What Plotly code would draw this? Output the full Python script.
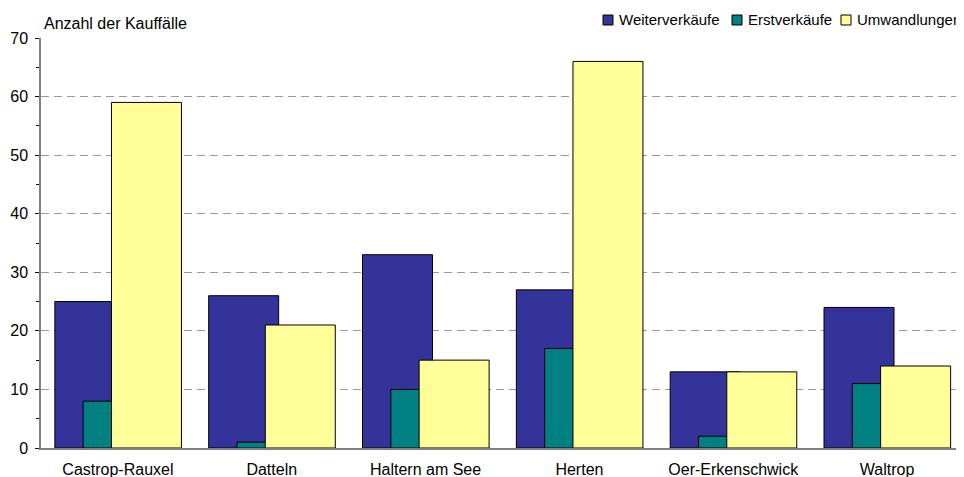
import plotly.graph_objects as go

categories = ["Castrop-Rauxel", "Datteln", "Haltern am See", "Herten", "Oer-Erkenschwick", "Waltrop"]
weiterverkaeufe = [25, 26, 33, 27, 13, 24]
erstverkaeufe = [8, 1, 10, 17, 2, 11]
umwandlungen = [59, 21, 15, 66, 13, 14]
series_names = ["Weiterverkäufe", "Erstverkäufe", "Umwandlungen"]
colors = ["#333399", "#008080", "#FFFF99"]

# page has an 8px body margin; figure size/positions compensate for it
OFF = 8
W, H = 964 - OFF, 477 - OFF
L, R, T, B = 41 - OFF, 0, 38 - OFF, 29
PW, PH = W - L - R, H - T - B

def px_x(p):
    # p in screen pixels
    return (p - OFF - L) / PW

def px_y(p):
    return (H - B - (p - OFF)) / PH

bar_w = 0.455
step = 0.184
offsets = [-0.41, -0.41 + step, -0.41 + 2 * step]
values = [weiterverkaeufe, erstverkaeufe, umwandlungen]

fig = go.Figure()
for name, vals, col, off in zip(series_names, values, colors, offsets):
    fig.add_trace(go.Bar(
        x=categories, y=vals, name=name, showlegend=False,
        marker=dict(color=col, line=dict(color="#000000", width=1)),
        width=bar_w, offset=off,
    ))

# custom legend (compact, Excel-like)
legend_sq = [603, 732, 841]
legend_tx = [617, 746, 855]
shapes = []
annotations = []
for name, col, sx, tx in zip(series_names, colors, legend_sq, legend_tx):
    shapes.append(dict(type="rect", xref="paper", yref="paper",
                       x0=px_x(sx), x1=px_x(sx + 10), y0=px_y(25), y1=px_y(15),
                       fillcolor=col, line=dict(color="#000000", width=1)))
    annotations.append(dict(text=name, xref="paper", yref="paper", x=px_x(tx), y=px_y(20),
                            xanchor="left", yanchor="middle", showarrow=False,
                            font=dict(size=15)))

annotations.append(dict(text="Anzahl der Kauffälle", xref="paper", yref="paper",
                        x=px_x(42), y=px_y(24), xanchor="left", yanchor="middle",
                        showarrow=False, font=dict(size=16)))

fig.update_layout(
    width=W, height=H,
    margin=dict(l=L, r=R, t=T, b=B, autoexpand=False),
    paper_bgcolor="white", plot_bgcolor="white",
    barmode="overlay",
    font=dict(family="Liberation Sans, Arial, sans-serif", size=16, color="#000000"),
    showlegend=False,
    xaxis=dict(type="category", range=[-0.5, 5.5], showline=True, linecolor="#808080",
               linewidth=1.5, ticks="", showgrid=False, tickfont=dict(size=16),
               ticklabelstandoff=6, automargin=False),
    yaxis=dict(range=[0, 70], dtick=10, showline=True, linecolor="#808080", linewidth=1.5,
               ticks="outside", ticklen=4, tickcolor="#000000", showgrid=True,
               gridcolor="#999999", griddash="8px,5px", gridwidth=1, zeroline=False,
               tickfont=dict(size=16), ticklabelstandoff=4, automargin=False,
               minor=dict(dtick=5, ticks="outside", ticklen=3, tickcolor="#000000", showgrid=False)),
    shapes=shapes,
    annotations=annotations,
)

fig.write_html("out.html")
